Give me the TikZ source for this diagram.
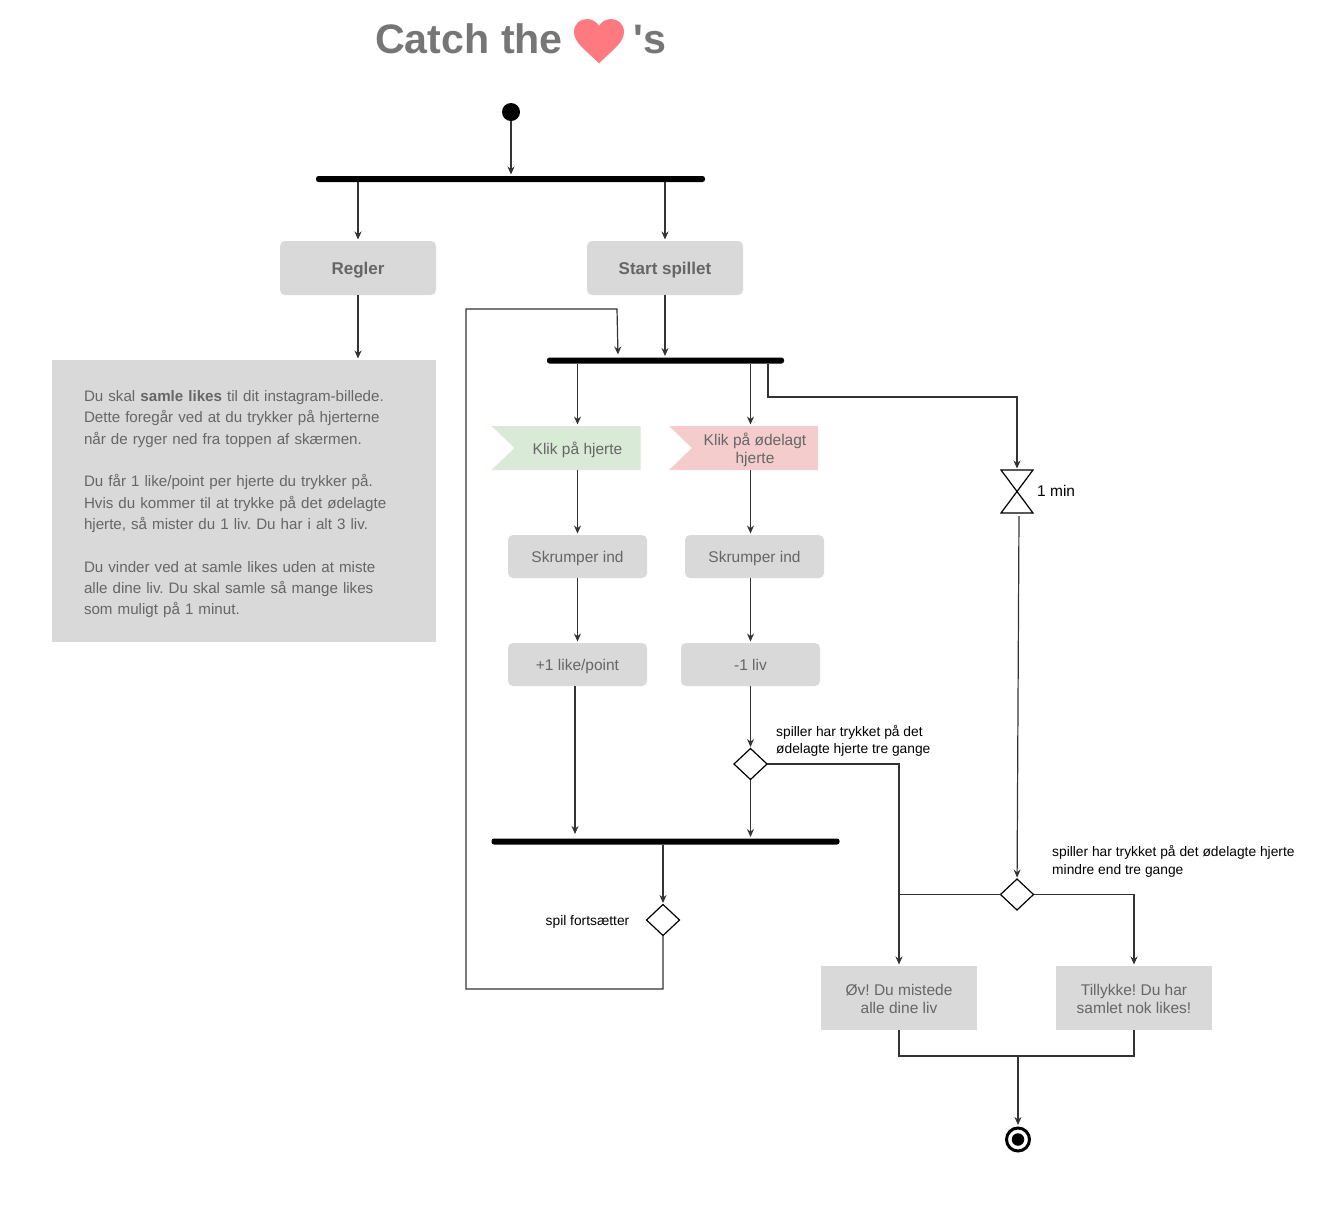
\documentclass[tikz,border=0pt]{standalone}
\usepackage{fontspec}
\setmainfont{Liberation Sans}
\newfontfamily\titlefont{Liberation Sans}
\usetikzlibrary{shapes.geometric, shapes.symbols, arrows.meta, positioning}
\definecolor{boxgrey}{HTML}{D9D9D9}
\definecolor{textgrey}{HTML}{666666}
\definecolor{titlegrey}{HTML}{767676}
\definecolor{flaggreen}{HTML}{D9EAD6}
\definecolor{flagred}{HTML}{F4CCCC}
\definecolor{heartred}{HTML}{FF7A80}

\begin{document}
\frenchspacing
\begin{tikzpicture}[
    x=1pt, y=-1pt,
    % Style for the grey boxes
    softbox/.style={
        rectangle,
        fill=boxgrey,
        text=textgrey,
        outer sep=0pt,
        align=center,
        font=\fontsize{15.5}{18}\selectfont
    },
    roundbox/.style={softbox, rounded corners=5pt, minimum width=139pt, minimum height=43pt, text height=15pt, text depth=3.2pt},
    headbox/.style={roundbox, minimum width=156pt, minimum height=54pt, text height=16.3pt, text depth=3.6pt, font=\fontsize{17}{20}\selectfont\bfseries},
    endbox/.style={softbox, minimum width=156pt, minimum height=64pt},
    % Style for the flags with a notch on the left
    flag/.style={
        signal, signal to=nowhere, signal from=west, signal pointer angle=88,
        fill=#1,
        text=textgrey,
        outer sep=0pt,
        inner sep=0pt,
        align=center,
        minimum width=149pt,
        minimum height=44pt,
        font=\fontsize{15.5}{18}\selectfont
    },
    % Style for the black synchronisation bars
    syncbar/.style={
        rectangle,
        rounded corners=2.5pt,
        fill=black,
        inner sep=0pt,
        outer sep=0pt,
        minimum height=6pt,
        minimum width=#1
    },
    choice/.style={
        diamond,
        draw=black,
        line width=1.2pt,
        fill=white,
        inner sep=0pt,
        outer sep=0pt,
        minimum width=33pt,
        minimum height=31pt
    },
    note/.style={
        align=left,
        inner sep=0pt,
        font=\fontsize{13.8}{17.3}\selectfont
    },
    link/.style={line width=1.2pt, draw=black!80},
    arrow/.style={link, shorten >=1.5pt, -{Stealth[length=8pt, width=7pt]}}
]
\useasboundingbox (0,0) rectangle (1326,1208);

% 1. Title
\node[inner sep=0pt, text=titlegrey, font=\titlefont\fontsize{41.2}{41}\selectfont\bfseries, anchor=base west] (title) at (375,53) {Catch the};
\node[inner sep=0pt, text=titlegrey, font=\titlefont\fontsize{41.2}{41}\selectfont\bfseries, anchor=base west] (plural) at (633,53) {'s};
\fill[heartred] (599,63.5) .. controls (586,50) and (574,43) .. (574,32)
    .. controls (574,24) and (580,19) .. (587,19)
    .. controls (592,19) and (597,22) .. (599,26)
    .. controls (601,22) and (606,19) .. (611,19)
    .. controls (618,19) and (624,24) .. (624,32)
    .. controls (624,43) and (612,50) .. (599,63.5) -- cycle;

% 2. Place the nodes
\node[circle, fill=black, minimum size=18pt, inner sep=0pt, outer sep=0pt] (start) at (511,112) {};
\node[syncbar=389pt] (topbar) at (510.5,179) {};
\node[headbox, below=59pt of topbar, xshift=-152.5pt] (rules) {Regler};
\node[headbox, below=59pt of topbar, xshift=154.5pt] (play) {Start spillet};
\node[softbox, anchor=north west, text width=320pt, inner xsep=32pt, inner ysep=0pt, minimum height=282pt,
    font=\fontsize{15.15}{21.35}\selectfont, align=left] (ruletext) at (52,360) {%
    \rule{0pt}{17.5pt}Du skal \textbf{samle likes} til dit instagram-billede.\\
    Dette foregår ved at du trykker på hjerterne\\
    når de ryger ned fra toppen af skærmen.\\[21.35pt]
    Du får 1 like/point per hjerte du trykker på.\\
    Hvis du kommer til at trykke på det ødelagte\\
    hjerte, så mister du 1 liv. Du har i alt 3 liv.\\[21.35pt]
    Du vinder ved at samle likes uden at miste\\
    alle dine liv. Du skal samle så mange likes\\
    som muligt på 1 minut.};

\node[syncbar=237pt] (gamebar) at (665.5,360.5) {};
\node[flag=flaggreen, text height=17pt, text depth=3.2pt] (goodflag) at (577.5,448) {Klik på hjerte};
\node[flag=flagred] (badflag) at (755,448) {\rule{0pt}{17pt}Klik på ødelagt\\hjerte};
\node[roundbox] (shrinkgood) at (577.5,556.5) {Skrumper ind};
\node[roundbox] (shrinkbad) at (754.5,556.5) {Skrumper ind};
\node[roundbox, below=65pt of shrinkgood.south, anchor=north] (point) {+1 like/point};
\node[roundbox, below=65pt of shrinkbad.south, anchor=north, xshift=-4pt] (life) {-1 liv};
\node[choice] (threetimes) at (750.5,764) {};
\node[note, anchor=west] (threetext) at (776,741) {spiller har trykket på det\\ødelagte hjerte tre gange};
\node[syncbar=348pt] (joinbar) at (665.5,841.5) {};
\node[choice] (goon) at (663,920) {};
\node[note, left=17pt of goon, yshift=-2pt] (goontext) {spil fortsætter};
\node[minimum width=32pt, minimum height=43pt, inner sep=0pt, outer sep=0pt] (timer) at (1017,491.5) {};
\node[right=4pt of timer, yshift=1pt, inner sep=0pt, font=\fontsize{15.5}{18}\selectfont] (timertext) {1 min};
\node[choice] (fewer) at (1017,894.5) {};
\node[note, anchor=west] (fewertext) at (1052,861.5) {spiller har trykket på det ødelagte hjerte\\mindre end tre gange};
\node[endbox] (lost) at (899,998) {\rule{0pt}{13pt}Øv! Du mistede\\alle dine liv};
\node[endbox] (won) at (1134,998) {\rule{0pt}{13pt}Tillykke! Du har\\samlet nok likes!};
\node[circle, draw=black, line width=3pt, minimum size=23pt, inner sep=0pt] (final) at (1018,1139.5) {};
\node[circle, fill=black, minimum size=12.5pt, inner sep=0pt] (finaldot) at (final) {};

% Helper points for the connectors
\coordinate (merge) at (1018,1056);
\coordinate (loopfoot) at (466,989);
\coordinate (looptop) at (617,309);
\coordinate (loopend) at (618,356);
\coordinate (timerin) at (768,397);

% 3. Draw the hourglass
\draw[line width=1.2pt] (timer.north west) -- (timer.north east) -- (timer.south west) -- (timer.south east) -- cycle;

% 4. Draw the arrows
\draw[arrow] (start) -- (start |- topbar.north);
\draw[arrow] (rules |- topbar.south) -- (rules);
\draw[arrow] (play |- topbar.south) -- (play);
\draw[arrow] (rules) -- (rules |- ruletext.north);
\draw[arrow] (play) -- (play |- gamebar.north);

\draw[arrow] (point |- gamebar.south) -- (point |- goodflag.north);
\draw[arrow] (threetimes |- gamebar.south) -- (threetimes |- badflag.north);
\draw[arrow] (point |- goodflag.south) -- (point |- shrinkgood.north);
\draw[arrow] (threetimes |- badflag.south) -- (threetimes |- shrinkbad.north);
\draw[arrow] (point |- shrinkgood.south) -- (point);
\draw[arrow] (threetimes |- shrinkbad.south) -- (threetimes |- life.north);
\draw[arrow, shorten >=4.5pt] ([xshift=-2.5pt]point.south) -- ([xshift=-2.5pt]point.south |- joinbar.north);
\draw[arrow] (threetimes |- life.south) -- (threetimes);
\draw[arrow] (threetimes) -- (threetimes |- joinbar.north);
\draw[arrow] (threetimes.east) -- (lost |- threetimes) -- (lost);
\draw[arrow] (goon |- joinbar.south) -- (goon);

% The loop back to the top of the game
\draw[arrow] (goon.south) |- (loopfoot) |- (looptop) -- (loopend);

% The branch to the timer
\draw[arrow] (timerin |- gamebar.south) -- (timerin) -| (timer.north);
\draw[arrow] ([xshift=2pt, yshift=-3pt]timer.south) -- (fewer);

\draw[link] (fewer) -- (lost |- fewer);
\draw[arrow] (fewer) -| (won);
\draw[link] (lost) |- (merge);
\draw[link] (won) |- (merge);
\draw[arrow] (merge) -- (final);

\end{tikzpicture}
\end{document}
